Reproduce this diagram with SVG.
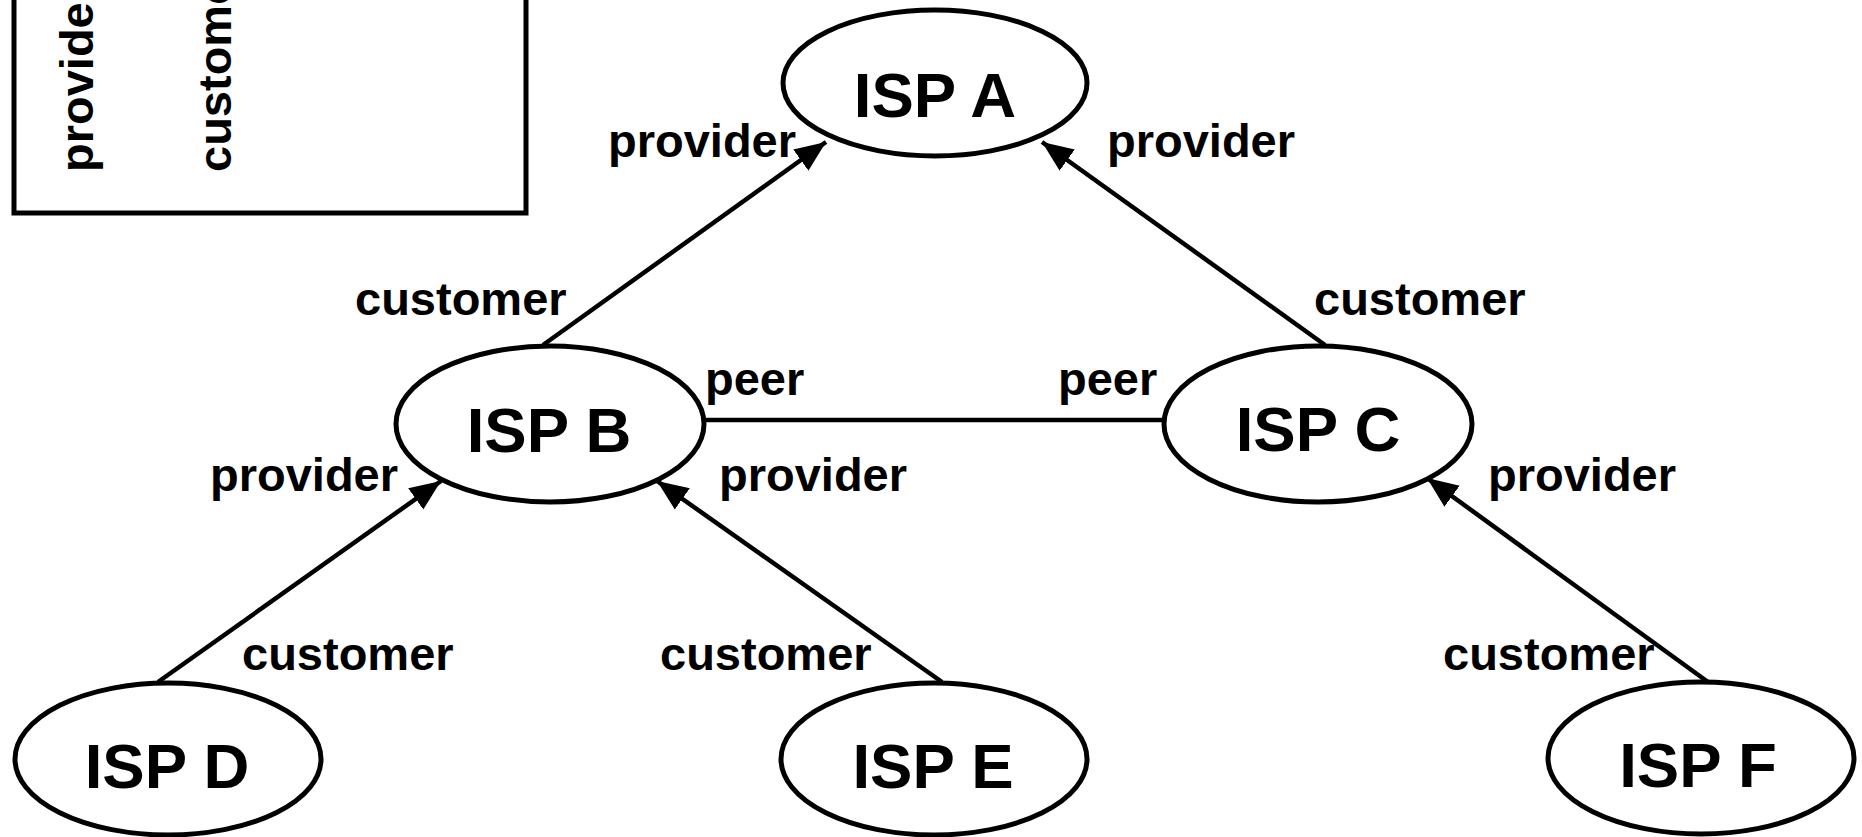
<svg xmlns="http://www.w3.org/2000/svg" width="1862" height="837" viewBox="0 0 1862 837">
<style>
.node{fill:#fff;stroke:#000;stroke-width:5}
.nl{font-family:"Liberation Sans",Arial,sans-serif;font-weight:bold;font-size:63.5px;text-anchor:middle;fill:#000}
.el{font-family:"Liberation Sans",Arial,sans-serif;font-weight:bold;font-size:47px;fill:#000}
.edge{stroke:#000;stroke-width:4.5;fill:none}
</style>
<defs>
<marker id="arr" markerUnits="userSpaceOnUse" markerWidth="34" markerHeight="28" refX="31" refY="13" orient="auto" viewBox="0 0 34 26">
<path d="M0,0 L31,13 L0,26 z" fill="#000"/>
</marker>
</defs>
<rect width="1862" height="837" fill="#fff"/>
<g id="legend">
<rect x="14" y="-100" width="512" height="313" fill="#fff" stroke="#000" stroke-width="5"/>
<text class="el" transform="translate(93,172) rotate(-90)">provider</text>
<text class="el" transform="translate(231,172) rotate(-90)">customer</text>
</g>
<g id="connectors">
<line class="edge" x1="543" y1="345" x2="826" y2="142" marker-end="url(#arr)"/>
<line class="edge" x1="1325" y1="345" x2="1042" y2="142" marker-end="url(#arr)"/>
<line class="edge" x1="705" y1="420" x2="1164" y2="420"/>
<line class="edge" x1="158" y1="682" x2="441" y2="481" marker-end="url(#arr)"/>
<line class="edge" x1="942" y1="682" x2="657" y2="481" marker-end="url(#arr)"/>
<line class="edge" x1="1708" y1="682" x2="1427" y2="478" marker-end="url(#arr)"/>
<text class="el" x="608" y="157">provider</text>
<text class="el" x="1107" y="157">provider</text>
<text class="el" x="355" y="315">customer</text>
<text class="el" x="1314" y="315">customer</text>
<text class="el" x="705" y="395">peer</text>
<text class="el" x="1058" y="395">peer</text>
<text class="el" x="210" y="491">provider</text>
<text class="el" x="719" y="491">provider</text>
<text class="el" x="1488" y="491">provider</text>
<text class="el" x="242" y="670">customer</text>
<text class="el" x="660" y="670">customer</text>
<text class="el" x="1443" y="670">customer</text>
</g>
<g id="ispA"><ellipse class="node" cx="935" cy="83" rx="152" ry="73"/><text class="nl" x="935" y="117">ISP A</text></g>
<g id="ispB"><ellipse class="node" cx="550" cy="424" rx="154" ry="78"/><text class="nl" x="549" y="452">ISP B</text></g>
<g id="ispC"><ellipse class="node" cx="1318" cy="424" rx="154" ry="78"/><text class="nl" x="1318" y="451">ISP C</text></g>
<g id="ispD"><ellipse class="node" cx="168" cy="759" rx="153" ry="76"/><text class="nl" x="167" y="788">ISP D</text></g>
<g id="ispE"><ellipse class="node" cx="934" cy="759" rx="153" ry="76"/><text class="nl" x="933" y="788">ISP E</text></g>
<g id="ispF"><ellipse class="node" cx="1701" cy="758" rx="153" ry="76"/><text class="nl" x="1698" y="787">ISP F</text></g>
</svg>
